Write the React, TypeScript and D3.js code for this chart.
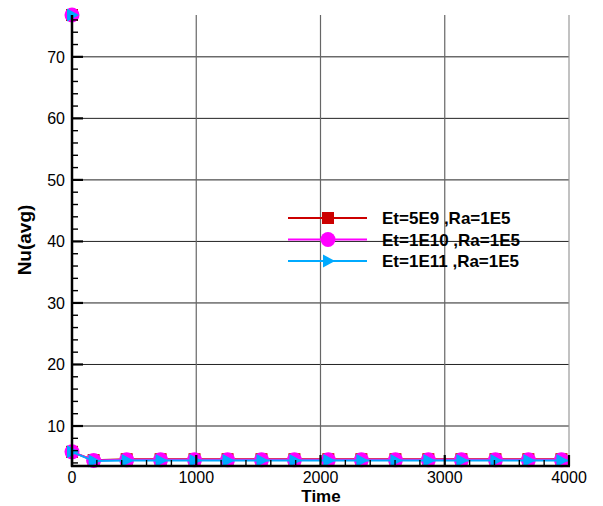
import React from 'react';
import * as d3 from 'd3';

// time samples (marker positions) and averaged Nusselt values per case
const times = [0, 0, 174, 440, 713, 986, 1252, 1525, 1790, 2063, 2329, 2603, 2868, 3134, 3408, 3673, 3939, 4000];
const nuEt5E9 = [76.8, 5.8, 4.45, 4.6, 4.6, 4.6, 4.6, 4.6, 4.6, 4.6, 4.6, 4.6, 4.6, 4.6, 4.6, 4.6, 4.6, 4.6];
const nuEt1E10 = [76.8, 5.8, 4.4, 4.5, 4.5, 4.5, 4.5, 4.5, 4.5, 4.5, 4.5, 4.5, 4.5, 4.5, 4.5, 4.5, 4.5, 4.5];
const nuEt1E11 = [76.8, 5.8, 4.3, 4.4, 4.4, 4.4, 4.4, 4.4, 4.4, 4.4, 4.4, 4.4, 4.4, 4.4, 4.4, 4.4, 4.4, 4.4];
const seriesNames = ['Et=5E9 ,Ra=1E5', 'Et=1E10 ,Ra=1E5', 'Et=1E11 ,Ra=1E5'];
const xTicks = [0, 1000, 2000, 3000, 4000];
const yTicks = [10, 20, 30, 40, 50, 60, 70];

const W = 603;
const H = 506;
const m = { left: 72, right: 569, top: 15, bottom: 466 };
const font = 'Arial, "Liberation Sans", Helvetica, sans-serif';

const series = [
  { name: seriesNames[0], values: nuEt5E9, color: '#cc0000', marker: 'square' },
  { name: seriesNames[1], values: nuEt1E10, color: '#ff00ff', marker: 'circle' },
  { name: seriesNames[2], values: nuEt1E11, color: '#00aaff', marker: 'triangle' },
];

const Marker = ({ kind, x, y, color }: { kind: string; x: number; y: number; color: string }) => {
  if (kind === 'square') return <rect x={x - 6} y={y - 6} width={12} height={12} fill={color} />;
  if (kind === 'circle') return <circle cx={x} cy={y} r={7.5} fill={color} />;
  return <path d={`M${x - 5},${y - 6.5} L${x + 7},${y} L${x - 5},${y + 6.5} Z`} fill={color} />;
};

export default function App() {
  const x = d3.scaleLinear().domain([0, 4000]).range([m.left, m.right]);
  const y = d3.scaleLinear().domain([3.5, 76.8]).range([m.bottom, m.top]);

  const line = d3.line<number>()
    .x((_, i) => x(times[i]))
    .y(d => y(d));

  const xMinor = d3.range(0, 4001, 200);
  const yMinor = d3.range(4, 77, 2);

  return (
    <svg width={W} height={H} style={{ position: 'absolute', left: 0, top: 0, background: '#fff' }} fontFamily={font}>
      {/* grid */}
      {yTicks.map(t => (
        <line key={'gy' + t} x1={m.left} x2={m.right} y1={y(t)} y2={y(t)} stroke="#222" strokeWidth={1} />
      ))}
      {xTicks.slice(1).map(t => (
        <line key={'gx' + t} x1={x(t)} x2={x(t)} y1={m.top} y2={m.bottom} stroke={t === 4000 ? '#999' : '#666'} strokeWidth={1.2} />
      ))}

      {/* series */}
      {series.map(s => (
        <g key={s.name}>
          <path d={line(s.values) || ''} fill="none" stroke={s.color} strokeWidth={2} />
          {s.values.slice(0, -1).map((v, i) => (
            <Marker key={i} kind={s.marker} x={x(times[i])} y={y(v)} color={s.color} />
          ))}
        </g>
      ))}

      {/* axes */}
      <line x1={m.left} x2={m.left} y1={m.top} y2={m.bottom + 1} stroke="#000" strokeWidth={2.5} />
      <line x1={m.left - 1} x2={m.right + 1} y1={m.bottom} y2={m.bottom} stroke="#000" strokeWidth={2.5} />
      {yMinor.map(t => (
        <line key={'ym' + t} x1={m.left} x2={m.left + (t % 10 === 0 ? 11 : 6)} y1={y(t)} y2={y(t)} stroke="#000" strokeWidth={t % 10 === 0 ? 2.2 : 1.4} />
      ))}
      {xMinor.map(t => (
        <line key={'xm' + t} x1={x(t)} x2={x(t)} y1={m.bottom} y2={m.bottom - (t % 1000 === 0 ? 11 : 6)} stroke="#000" strokeWidth={t % 1000 === 0 ? 2.2 : 1.4} />
      ))}
      {yTicks.map(t => (
        <text key={'yl' + t} x={m.left - 7} y={y(t) + 6} textAnchor="end" fontSize={16} fill="#000">{t}</text>
      ))}
      {xTicks.map(t => (
        <text key={'xl' + t} x={x(t)} y={483} textAnchor="middle" fontSize={16} fill="#000">{t}</text>
      ))}
      <text x={321} y={502} textAnchor="middle" fontSize={17} fontWeight="bold" fill="#000">Time</text>
      <text transform={`translate(31,240) rotate(-90)`} textAnchor="middle" fontSize={19} fontWeight="bold" fill="#000">Nu(avg)</text>

      {/* legend */}
      {series.map((s, i) => {
        const ly = 218 + i * 21.5;
        return (
          <g key={'lg' + i}>
            <line x1={288} x2={367} y1={ly} y2={ly} stroke={s.color} strokeWidth={2} />
            <Marker kind={s.marker} x={328} y={ly} color={s.color} />
            <text x={382} y={ly + 6} fontSize={17} fontWeight="bold" fill="#000">{s.name}</text>
          </g>
        );
      })}
    </svg>
  );
}
